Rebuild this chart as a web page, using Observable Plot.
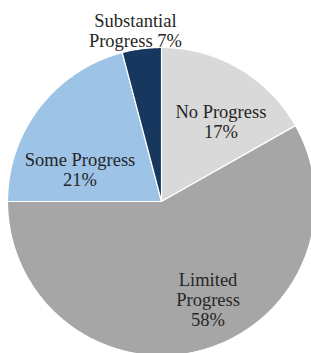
<!DOCTYPE html>
<html>
<head>
<meta charset="utf-8">
<script src="https://cdn.jsdelivr.net/npm/d3@7"></script>
<script src="https://cdn.jsdelivr.net/npm/@observablehq/plot@0.6"></script>
<style>
  html, body { margin: 0; padding: 0; background: #ffffff; }
  #chart svg { display: block; }
</style>
</head>
<body>
<div id="chart"></div>
<script>
// ---- data ----
const categories = ["No Progress", "Limited Progress", "Some Progress", "Substantial Progress"];
// drawn slice sizes (as measured from the slice angles)
const sliceShares = [16.8, 58.2, 20.9, 4.1];
// printed percentage labels
const percentLabels = ["17%", "58%", "21%", "7%"];
// printed label text (line breaks as in the picture)
const labelTexts = ["No Progress\n17%", "Limited\nProgress\n58%", "Some Progress\n21%", "Substantial\nProgress 7%"];
const sliceColors = ["#d9d9d9", "#a6a6a6", "#9dc3e6", "#17375e"];

// ---- geometry from the library's pie layout ----
const arcs = d3.pie().sort(null).value(d => d)(sliceShares);
const slicePoints = [];
arcs.forEach((a, i) => {
  const name = categories[i];
  slicePoints.push({name, x: 0, y: 0});
  const n = Math.max(2, Math.ceil((a.endAngle - a.startAngle) / (Math.PI / 360)));
  for (let k = 0; k <= n; k++) {
    const t = a.startAngle + (a.endAngle - a.startAngle) * k / n;
    slicePoints.push({name, x: Math.sin(t), y: Math.cos(t)});
  }
});

// label placement (polar, degrees clockwise from top, radius in pie radii)
const labelLayout = {
  "No Progress": {angle: 36.6, radius: 0.647},
  "Limited Progress": {angle: 154.6, radius: 0.705},
  "Some Progress": {angle: 291.4, radius: 0.568},
  "Substantial Progress": {angle: 351.3, radius: 1.12}
};
const labels = categories.map((name, i) => {
  const L = labelLayout[name];
  const t = L.angle * Math.PI / 180;
  return {name, text: labelTexts[i], x: L.radius * Math.sin(t), y: L.radius * Math.cos(t)};
});

const W = 311, H = 353, CX = 161, CY = 201, R = 154;

const chart = Plot.plot({
  width: W,
  height: H,
  margin: 0,
  style: {background: "#ffffff", fontFamily: "'Liberation Serif', 'Times New Roman', serif"},
  x: {domain: [-CX / R, (W - CX) / R], range: [0, W], axis: null},
  y: {domain: [-(H - CY) / R, CY / R], range: [H, 0], axis: null},
  color: {type: "ordinal", domain: categories, range: sliceColors},
  marks: [
    Plot.line(slicePoints, {
      x: "x", y: "y", z: "name", fill: "name",
      stroke: "#ffffff", strokeWidth: 1.2, strokeLinejoin: "miter",
      curve: "linear-closed"
    }),
    Plot.text(labels, {
      x: "x", y: "y", text: "text",
      fontSize: 18.5, lineHeight: 1.08,
      fontFamily: "'Liberation Serif', 'Times New Roman', serif",
      fill: "#262626"
    })
  ]
});
document.getElementById("chart").appendChild(chart);
</script>
</body>
</html>
